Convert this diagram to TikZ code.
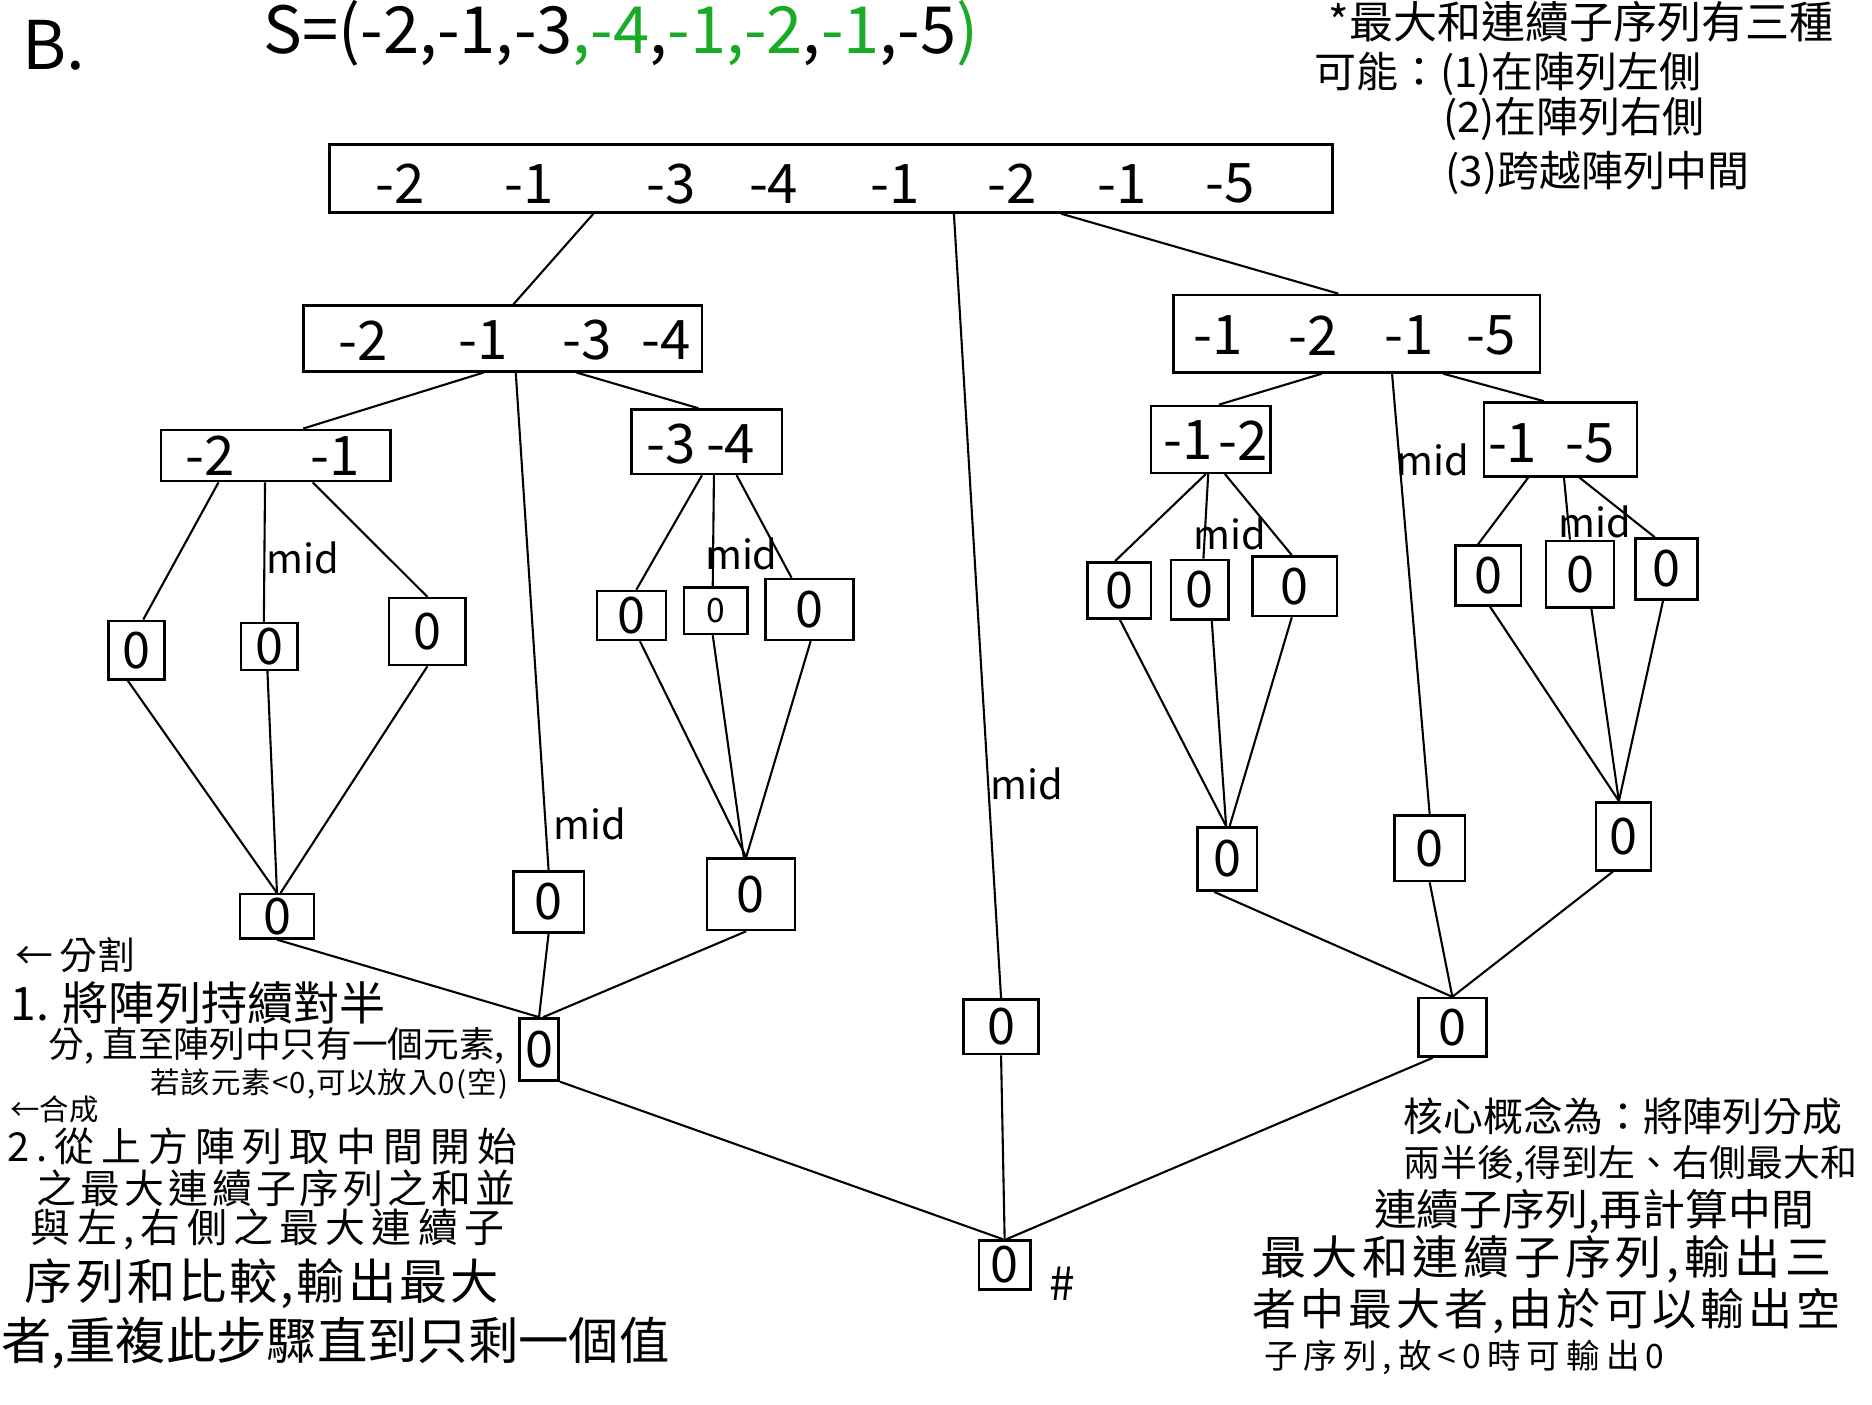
\documentclass[tikz,border=0pt]{standalone}
\usepackage{fontspec}
\setmainfont{Noto Sans CJK TC}
\definecolor{penGreen}{RGB}{25,170,40}

\begin{document}
\begin{tikzpicture}[x=0.1mm,y=-0.1mm,line width=0.5pt,
	cell/.style={draw,line width=0.6pt,inner sep=0pt,font=\fontsize{12}{12}\selectfont},
	num/.style={font=\fontsize{13}{13}\selectfont},
	midtag/.style={font=\fontsize{9.5}{9.5}\selectfont},
	note/.style={anchor=west,inner sep=0pt}]
	\useasboundingbox (0,0) rectangle (1568,1176);
	% heading
	\node[font=\fontsize{16}{16}\selectfont] (title) at (45,38) {B.};
	\node[note,font=\fontsize{15.5}{15.5}\selectfont] (seq) at (220,28) {S=(-2,-1,-3\textcolor{penGreen}{,-4},\textcolor{penGreen}{-1,-2},\textcolor{penGreen}{-1},-5\textcolor{penGreen}{)}};
	% split boxes
	\node[cell,minimum width=84mm,minimum height=5.7mm] (top) at (696,149.5) {};
	\node[num] (top1) at (335,154) {-2};
	\node[num] (top2) at (443,154) {-1};
	\node[num] (top3) at (562,154) {-3};
	\node[num] (top4) at (648,154) {-4};
	\node[num] (top5) at (750,154) {-1};
	\node[num] (top6) at (848,154) {-2};
	\node[num] (top7) at (940,154) {-1};
	\node[num] (top8) at (1030,154) {-5};
	\node[cell,minimum width=33.4mm,minimum height=5.5mm] (L) at (421,283.5) {};
	\node[num] (L1) at (304,285) {-2};
	\node[num] (L2) at (405,285) {-1};
	\node[num] (L3) at (492,285) {-3};
	\node[num] (L4) at (558,285) {-4};
	\node[cell,minimum width=30.7mm,minimum height=6.5mm] (R) at (1136.5,279.5) {};
	\node[num] (R1) at (1020,281) {-1};
	\node[num] (R2) at (1100,281) {-2};
	\node[num] (R3) at (1180,281) {-1};
	\node[num] (R4) at (1249,281) {-5};
	\node[cell,minimum width=19.2mm,minimum height=4.3mm] (LL) at (231,381.5) {};
	\node[num] (LL1) at (176,382) {-2};
	\node[num] (LL2) at (281,382) {-1};
	\node[cell,minimum width=12.6mm,minimum height=5.4mm] (LR) at (592,370) {};
	\node[num] (LR1) at (562,372) {-3};
	\node[num] (LR2) at (612,372) {-4};
	\node[cell,minimum width=10mm,minimum height=5.6mm] (RL) at (1014,368) {};
	\node[num] (RL1) at (995,369) {-1};
	\node[num] (RL2) at (1041,369) {-2};
	\node[cell,minimum width=12.8mm,minimum height=6.2mm] (RR) at (1307,368) {};
	\node[num] (RR1) at (1267,371) {-1};
	\node[num] (RR2) at (1332,371) {-5};
	% single elements
	\node[cell,minimum width=4.7mm,minimum height=4.9mm] (a1) at (114.5,544.5) {0};
	\node[cell,minimum width=4.7mm,minimum height=3.9mm] (a2) at (225.5,541.5) {0};
	\node[cell,minimum width=6.4mm,minimum height=5.6mm] (a3) at (358,529) {0};
	\node[cell,minimum width=5.8mm,minimum height=4.1mm] (b1) at (529,515.5) {0};
	\node[cell,minimum width=5.3mm,minimum height=3.9mm,font=\fontsize{8}{8}\selectfont] (b2) at (599.5,511.5) {0};
	\node[cell,minimum width=7.4mm,minimum height=5.1mm] (b3) at (678,510.5) {0};
	\node[cell,minimum width=5.3mm,minimum height=4.7mm] (c1) at (937.5,494.5) {0};
	\node[cell,minimum width=4.8mm,minimum height=5mm] (c2) at (1005,494) {0};
	\node[cell,minimum width=7.1mm,minimum height=5mm] (c3) at (1084.5,491) {0};
	\node[cell,minimum width=5.5mm,minimum height=5mm] (d1) at (1246.5,482) {0};
	\node[cell,minimum width=5.7mm,minimum height=5.6mm] (d2) at (1323.5,481) {0};
	\node[cell,minimum width=5.2mm,minimum height=5.1mm] (d3) at (1396,476.5) {0};
	% merged results
	\node[cell,minimum width=6.2mm,minimum height=3.7mm] (ma) at (232,767.5) {0};
	\node[cell,minimum width=7.4mm,minimum height=6mm] (mb) at (629,749) {0};
	\node[cell,minimum width=5.9mm,minimum height=5.1mm] (mL) at (459.5,755.5) {0};
	\node[cell,minimum width=5mm,minimum height=5.3mm] (mc) at (1028,719.5) {0};
	\node[cell,minimum width=4.6mm,minimum height=5.7mm] (md) at (1360,700.5) {0};
	\node[cell,minimum width=5.9mm,minimum height=5.5mm] (mR) at (1197.5,710.5) {0};
	\node[cell,minimum width=3.3mm,minimum height=5.2mm] (nL) at (451.5,879) {0};
	\node[cell,minimum width=6.3mm,minimum height=4.6mm] (nM) at (838.5,860) {0};
	\node[cell,minimum width=5.7mm,minimum height=4.9mm] (nR) at (1216.5,860.5) {0};
	\node[cell,minimum width=4.3mm,minimum height=4.1mm] (fin) at (841.5,1059.5) {0};
	\node[font=\fontsize{11}{11}\selectfont] (hash) at (890,1075) {\#};
	% splitting
	\draw (top.south -| 497,0) -- (L.north -| 430,0);
	\draw (top.south -| 799,0) -- (nM.north);
	\draw (top.south -| 889,0) -- (R.north -| 1121,0);
	\draw (L.south -| 405,0) -- (LL.north -| 254,0);
	\draw (L.south -| 483,0) -- (LR.north -| 585,0);
	\draw (L.south -| 432,0) -- (mL.north);
	\draw (R.south -| 1107,0) -- (RL.north -| 1021,0);
	\draw (R.south -| 1209,0) -- (RR.north -| 1293,0);
	\draw (R.south -| 1166,0) -- (mR.north);
	\draw (LL.south -| 183,0) -- (a1.north -| 120,0);
	\draw (LL.south -| 222,0) -- (a2.north -| 221,0);
	\draw (LL.south -| 262,0) -- (a3.north);
	\draw (LR.south -| 588,0) -- (b1.north -| 533,0);
	\draw (LR.south -| 598,0) -- (b2.north -| 597,0);
	\draw (LR.south -| 617,0) -- (b3.north -| 663,0);
	\draw (RL.south -| 1010,0) -- (c1.north -| 934,0);
	\draw (RL.south -| 1012,0) -- (c2.north -| 1008,0);
	\draw (RL.south -| 1026,0) -- (c3.north -| 1082,0);
	\draw (RR.south -| 1280,0) -- (d1.north -| 1238,0);
	\draw (RR.south -| 1310,0) -- (d2.north -| 1315,0);
	\draw (RR.south -| 1323,0) -- (d3.north -| 1386,0);
	% merging
	\draw (a1.south -| 107,0) -- (ma.north);
	\draw (a2.south -| 224,0) -- (ma.north);
	\draw (a3.south) -- (ma.north -| 235,0);
	\draw (b1.south -| 536,0) -- (mb.north -| 625,0);
	\draw (b2.south -| 597,0) -- (mb.north -| 623,0);
	\draw (b3.south -| 679,0) -- (mb.north -| 625,0);
	\draw (c1.south -| 938,0) -- (mc.north -| 1027,0);
	\draw (c2.south -| 1015,0) -- (mc.north -| 1027,0);
	\draw (c3.south -| 1082,0) -- (mc.north -| 1030,0);
	\draw (d1.south -| 1248,0) -- (md.north -| 1356,0);
	\draw (d2.south -| 1333,0) -- (md.north -| 1356,0);
	\draw (d3.south -| 1393,0) -- (md.north -| 1356,0);
	\draw (ma.south) -- (nL.north);
	\draw (mL.south) -- (nL.north);
	\draw (mb.south -| 625,0) -- (nL.north -| 455,0);
	\draw (mc.south -| 1017,0) -- (nR.north);
	\draw (mR.south) -- (nR.north);
	\draw (md.south -| 1351,0) -- (nR.north);
	\draw (nL.south east) -- (fin.north -| 840,0);
	\draw (nM.south) -- (fin.north);
	\draw (nR.south -| 1200,0) -- (fin.north -| 843,0);
	% mid marks
	\node[midtag] (mid1) at (254,467) {mid};
	\node[midtag] (mid2) at (621,464) {mid};
	\node[midtag] (mid3) at (494,690) {mid};
	\node[midtag] (mid4) at (860,657) {mid};
	\node[midtag] (mid5) at (1030,447) {mid};
	\node[midtag] (mid6) at (1200,385) {mid};
	\node[midtag] (mid7) at (1336,437) {mid};
	% notes, top right
	\node[note,font=\fontsize{10.5}{10.5}\selectfont] (tr1) at (1112,18) {*最大和連續子序列有三種};
	\node[note,font=\fontsize{10}{10}\selectfont] (tr2) at (1100,62) {可能：(1)在陣列左側};
	\node[note,font=\fontsize{10}{10}\selectfont] (tr3) at (1208,100) {(2)在陣列右側};
	\node[note,font=\fontsize{10}{10}\selectfont] (tr4) at (1210,145) {(3)跨越陣列中間};
	% notes, bottom left
	\node[note,font=\fontsize{9}{9}\selectfont] (bl0) at (12,800) {←\,分割};
	\node[note,font=\fontsize{11}{11}\selectfont] (bl1) at (8,840) {1. 將陣列持續對半};
	\node[note,font=\fontsize{8.5}{8.5}\selectfont] (bl2) at (40,876) {分, 直至陣列中只有一個元素,};
	\node[note,font=\fontsize{7}{7}\selectfont\addfontfeature{LetterSpace=4}] (bl3) at (125,908) {若該元素<0,可以放入0(空)};
	\node[note,font=\fontsize{7}{7}\selectfont] (bl4) at (8,929) {←合成};
	\node[note,font=\fontsize{9.5}{9.5}\selectfont\addfontfeature{LetterSpace=18}] (bl5) at (5,960) {2.從上方陣列取中間開始};
	\node[note,font=\fontsize{9.5}{9.5}\selectfont\addfontfeature{LetterSpace=10}] (bl6) at (30,995) {之最大連續子序列之和並};
	\node[note,font=\fontsize{9.5}{9.5}\selectfont\addfontfeature{LetterSpace=16}] (bl7) at (25,1030) {與左,右側之最大連續子};
	\node[note,font=\fontsize{11.5}{11.5}\selectfont\addfontfeature{LetterSpace=6}] (bl8) at (20,1075) {序列和比較,輸出最大};
	\node[note,font=\fontsize{12}{12}\selectfont] (bl9) at (0,1125) {者,重複此步驟直到只剩一個值};
	% notes, bottom right
	\node[note,font=\fontsize{9.5}{9.5}\selectfont] (br1) at (1175,935) {核心概念為：將陣列分成};
	\node[note,font=\fontsize{8.8}{8.8}\selectfont] (br2) at (1175,975) {兩半後,得到左、右側最大和};
	\node[note,font=\fontsize{10.2}{10.2}\selectfont] (br3) at (1150,1015) {連續子序列,再計算中間};
	\node[note,font=\fontsize{11}{11}\selectfont\addfontfeature{LetterSpace=10}] (br4) at (1055,1055) {最大和連續子序列,輸出三};
	\node[note,font=\fontsize{10.5}{10.5}\selectfont\addfontfeature{LetterSpace=9}] (br5) at (1048,1098) {者中最大者,由於可以輸出空};
	\node[note,font=\fontsize{8}{8}\selectfont\addfontfeature{LetterSpace=18}] (br6) at (1058,1137) {子序列,故<0時可輸出0};
\end{tikzpicture}
\end{document}
